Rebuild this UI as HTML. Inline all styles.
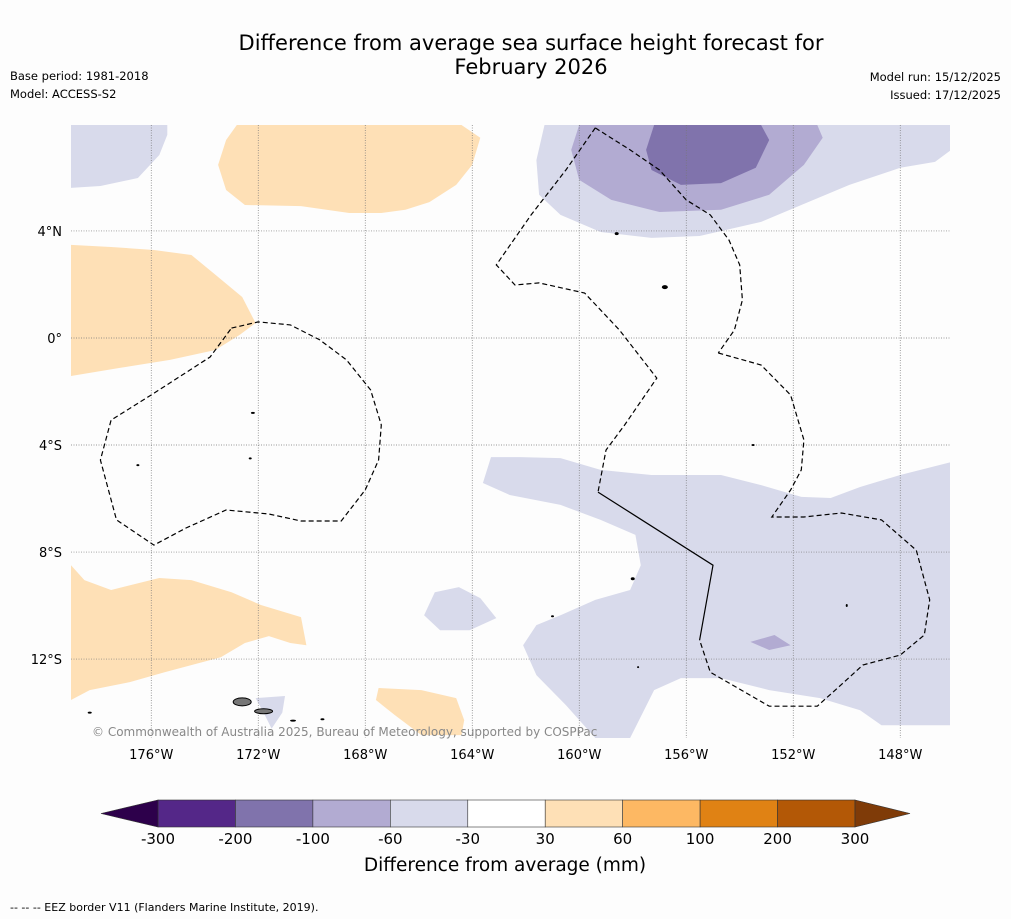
<!DOCTYPE html>
<html><head><meta charset="utf-8"><style>
body{margin:0;background:#fdfdfd;font-family:"DejaVu Sans","Liberation Sans",sans-serif;}
svg{display:block}
</style></head><body>
<svg id="chart" width="1011" height="919">
<rect width="1011" height="919" fill="#fdfdfd"/>
<text x="531" y="50" font-size="21" text-anchor="middle">Difference from average sea surface height forecast for</text>
<text x="531" y="74" font-size="21" text-anchor="middle">February 2026</text>
<text x="10" y="80" font-size="11.5">Base period: 1981-2018</text>
<text x="10" y="98" font-size="11.5">Model: ACCESS-S2</text>
<text x="1001" y="81" font-size="11.5" text-anchor="end">Model run: 15/12/2025</text>
<text x="1001" y="99" font-size="11.5" text-anchor="end">Issued: 17/12/2025</text>
<defs><clipPath id="mc"><rect x="71" y="125" width="879" height="613"/></clipPath></defs>
<g id="fills" clip-path="url(#mc)"></g>
<g id="grid"></g>
<g id="lines" clip-path="url(#mc)"></g>
<g id="isl" clip-path="url(#mc)"></g>
<text x="92" y="736" font-size="12" fill="#888">© Commonwealth of Australia 2025, Bureau of Meteorology, supported by COSPPac</text>
<g id="ticks"></g>
<g id="cbar"></g>
<text x="505" y="871" font-size="18.5" text-anchor="middle">Difference from average (mm)</text>
<text x="10" y="911" font-size="11">--  --  -- EEZ border V11 (Flanders Marine Institute, 2019).</text>
</svg>
<script>
const lonTicks=[-176,-172,-168,-164,-160,-156,-152,-148];
const latTicks=[4,0,-4,-8,-12];
const levels=[-300,-200,-100,-60,-30,30,60,100,200,300];
const levelColors=["#542788","#8073ac","#b2abd2","#d8daeb","#ffffff","#fee0b6","#fdb863","#e08214","#b35806"];
const lightPurpleTop=[[-161.3,7.96],[-161.6,6.65],[-161.5,5.35],[-160.7,4.6],[-159.2,3.96],[-157.3,3.74],[-155.5,3.81],[-153.2,4.34],[-151.7,4.97],[-149.9,5.72],[-148,6.36],[-146.7,6.58],[-146.1,7.03],[-146.1,7.96]];
const medPurpleTop=[[-160,7.96],[-160.3,7.03],[-160,5.91],[-158.8,5.16],[-157,4.71],[-154.7,4.79],[-152.9,5.35],[-151.6,6.47],[-150.9,7.48],[-151.1,7.96]];
const darkPurpleTop=[[-157.2,7.96],[-157.5,7.03],[-157.3,6.28],[-156.2,5.72],[-154.7,5.79],[-153.4,6.36],[-152.9,7.4],[-153.2,7.96]];
const lightPurpleNW=[[-179,7.96],[-179,5.61],[-177.9,5.68],[-176.5,5.98],[-175.7,6.84],[-175.4,7.59],[-175.4,7.96]];
const orangeTop=[[-172.8,7.96],[-173.2,7.4],[-173.5,6.47],[-173.2,5.53],[-172.5,4.97],[-170.4,4.93],[-168.6,4.67],[-167.4,4.67],[-166.5,4.79],[-165.6,5.08],[-164.6,5.72],[-164,6.47],[-163.7,7.48],[-164.4,7.96]];
const orangeWest=[[-179,3.48],[-177.5,3.4],[-175.9,3.29],[-174.5,3.1],[-173.6,2.36],[-172.6,1.53],[-172.1,0.56],[-172.7,0.11],[-173.6,-0.45],[-175.3,-0.82],[-177.2,-1.12],[-179,-1.42]];
const orangeSW=[[-179,-8.49],[-178.5,-9.05],[-177.5,-9.42],[-175.7,-8.97],[-174.5,-9.05],[-173,-9.5],[-171.9,-9.98],[-170.4,-10.43],[-170.2,-11.48],[-170.8,-11.4],[-171.6,-11.14],[-172.5,-11.4],[-173.4,-11.93],[-175.5,-12.49],[-176.8,-12.86],[-178.3,-13.16],[-179,-13.53]];
const orangeS=[[-167.5,-13.08],[-167.6,-13.53],[-166.9,-14.09],[-165.9,-14.84],[-164.4,-14.84],[-164.3,-14.28],[-164.6,-13.46],[-165.9,-13.16]];
const lightPurpleSE=[[-163.3,-4.45],[-163.6,-5.42],[-162.6,-5.87],[-160.7,-6.24],[-159.2,-6.8],[-157.9,-7.36],[-157.7,-8.49],[-158.1,-9.42],[-159.4,-9.79],[-160.7,-10.36],[-161.6,-10.73],[-162.1,-11.48],[-161.6,-12.6],[-160.5,-13.72],[-159.4,-14.95],[-158.1,-14.95],[-157.2,-13.16],[-156.2,-12.71],[-154.7,-12.71],[-152.9,-13.16],[-151,-13.46],[-149.5,-13.91],[-148.7,-14.47],[-146.1,-14.47],[-146.1,-4.64],[-148,-5.12],[-149.5,-5.57],[-150.6,-5.98],[-151.7,-5.94],[-153.2,-5.5],[-154.7,-5.12],[-157.3,-5.12],[-159.2,-4.93],[-160.7,-4.49],[-162.2,-4.45]];
const lightPurpleBlob=[[-165.4,-9.5],[-165.8,-10.36],[-165.2,-10.92],[-164.1,-10.92],[-163.1,-10.47],[-163.7,-9.72],[-164.5,-9.31]];
const lightPurpleSamoa=[[-172.1,-13.46],[-171,-13.38],[-171.1,-14.0],[-171.5,-14.6],[-171.8,-14.0]];
const medPurpleSmall=[[-153.6,-11.36],[-152.7,-11.1],[-152.1,-11.48],[-152.9,-11.66]];
const eezLeft=[[-173,0.37],[-172,0.6],[-170.8,0.49],[-169.7,-0.07],[-168.7,-0.82],[-167.8,-1.94],[-167.4,-3.25],[-167.5,-4.56],[-168,-5.68],[-168.9,-6.84],[-170.4,-6.84],[-171.6,-6.58],[-173.2,-6.43],[-174.7,-7.1],[-175.9,-7.74],[-177.3,-6.8],[-177.9,-4.56],[-177.5,-3.07],[-176,-2.13],[-173.8,-0.71],[-173,0.37]];
const eezNE=[[-159.4,7.85],[-158.1,7.03],[-157,6.28],[-156,5.16],[-155.1,4.6],[-154.4,3.66],[-154,2.73],[-153.9,1.42],[-154.2,0.3],[-154.8,-0.56]];
const eezEast=[[-154.8,-0.56],[-153.2,-1.01],[-152.1,-2.13],[-151.6,-3.81],[-151.7,-4.93],[-152.1,-5.68],[-152.8,-6.69],[-151.6,-6.69],[-150.2,-6.54],[-148.7,-6.8],[-147.4,-7.93],[-146.9,-9.79],[-147.1,-11.1],[-148,-11.85],[-149.4,-12.22],[-150.1,-12.86],[-151.1,-13.76],[-152.9,-13.76],[-155.1,-12.49],[-155.5,-11.29]];
const eezMid=[[-159.4,7.85],[-160.5,6.28],[-161.8,4.6],[-163.1,2.73],[-162.4,1.98],[-161.5,2.06],[-159.8,1.68],[-158.5,0.3],[-157.1,-1.5],[-158.3,-3.25],[-159,-4.19],[-159.3,-5.76]];
const eezSolid=[[-159.3,-5.76],[-155,-8.49],[-155.5,-11.29]];
const islands=[[-172.6,-13.6,9,4],[-171.8,-13.95,9,2.5],[-178.3,-14.0,2,1],[-170.7,-14.3,3,1],[-169.6,-14.25,2,1],[-156.8,1.9,3,2],[-158.6,3.9,2,1.5],[-172.2,-2.8,2,1],[-176.5,-4.75,1.5,1],[-172.3,-4.5,1.5,1],[-157.8,-12.3,1,1],[-161.0,-10.4,1.5,1],[-158.0,-9.0,2,1.5],[-153.5,-4.0,1.5,1],[-150.0,-10.0,1,1.5]];
const X0=71,X1=950,Y0=125,Y1=738,LON0=-179,LON1=-146.14,LAT0=7.96,LAT1=-14.95;
const xs=lon=>X0+(lon-LON0)/(LON1-LON0)*(X1-X0);
const ys=lat=>Y0+(lat-LAT0)/(LAT1-LAT0)*(Y1-Y0);
const NS="http://www.w3.org/2000/svg";
function mk(tag,parent,attrs){const e=document.createElementNS(NS,tag);for(const k in attrs)e.setAttribute(k,attrs[k]);parent.appendChild(e);return e;}
const pts=a=>a.map(p=>xs(p[0]).toFixed(1)+","+ys(p[1]).toFixed(1)).join(" ");
const fills=document.getElementById("fills");
const shapeList=[[lightPurpleTop,3,"contour-light-purple-north"],[medPurpleTop,2,"contour-medium-purple-north"],[darkPurpleTop,1,"contour-dark-purple-north"],[lightPurpleNW,3,"contour-light-purple-northwest"],[orangeTop,5,"contour-orange-north"],[orangeWest,5,"contour-orange-west"],[orangeSW,5,"contour-orange-southwest"],[orangeS,5,"contour-orange-south"],[lightPurpleSE,3,"contour-light-purple-southeast"],[lightPurpleBlob,3,"contour-light-purple-blob"],[lightPurpleSamoa,3,"contour-light-purple-samoa"],[medPurpleSmall,2,"contour-medium-purple-small"]];
shapeList.forEach(s=>{const e=mk("polygon",fills,{points:pts(s[0]),fill:levelColors[s[1]]});

});
const grid=document.getElementById("grid"),ticks=document.getElementById("ticks");
lonTicks.forEach(l=>{const x=xs(l);mk("line",grid,{x1:x,x2:x,y1:Y0,y2:Y1,stroke:"#777","stroke-width":0.7,"stroke-dasharray":"1,1.5"});
const t=mk("text",ticks,{x:x,y:759,"font-size":13,"text-anchor":"middle"});t.textContent=Math.abs(l)+"°W";

});
latTicks.forEach(l=>{const y=ys(l);mk("line",grid,{x1:X0,x2:X1,y1:y,y2:y,stroke:"#777","stroke-width":0.7,"stroke-dasharray":"1,1.5"});
const t=mk("text",ticks,{x:62,y:y+5,"font-size":13,"text-anchor":"end"});t.textContent=l===0?"0°":Math.abs(l)+"°"+(l>0?"N":"S");

});
const lines=document.getElementById("lines");
[eezLeft,eezNE,eezEast,eezMid].forEach(a=>{const e=mk("polyline",lines,{points:pts(a),fill:"none",stroke:"#000","stroke-width":1.2,"stroke-dasharray":"5,3"});

});
const sl=mk("polyline",lines,{points:pts(eezSolid),fill:"none",stroke:"#000","stroke-width":1.2});


const isl=document.getElementById("isl");
islands.forEach((d,i)=>{const e=mk("ellipse",isl,{cx:xs(d[0]),cy:ys(d[1]),rx:d[2],ry:d[3],fill:i<2?"#777":"#000",stroke:"#000","stroke-width":i<2?1:0});

});
const cb=document.getElementById("cbar");const cx0=158,cx1=855,cy=800,ch=27,seg=(cx1-cx0)/(levels.length-1);
levelColors.forEach((c,i)=>{const e=mk("rect",cb,{x:cx0+i*seg,y:cy,width:seg,height:ch,fill:c,stroke:"#333","stroke-width":0.6});

});
const tl=mk("polygon",cb,{points:`${cx0},${cy} ${cx0},${cy+ch} 101,${cy+ch/2}`,fill:"#2d004b",stroke:"#333","stroke-width":0.6});


const tr=mk("polygon",cb,{points:`${cx1},${cy} ${cx1},${cy+ch} 910,${cy+ch/2}`,fill:"#7f3b08",stroke:"#333","stroke-width":0.6});


levels.forEach((v,i)=>{const t=mk("text",cb,{x:cx0+i*seg,y:844,"font-size":15,"text-anchor":"middle"});t.textContent=v;

});
</script>
</body></html>
